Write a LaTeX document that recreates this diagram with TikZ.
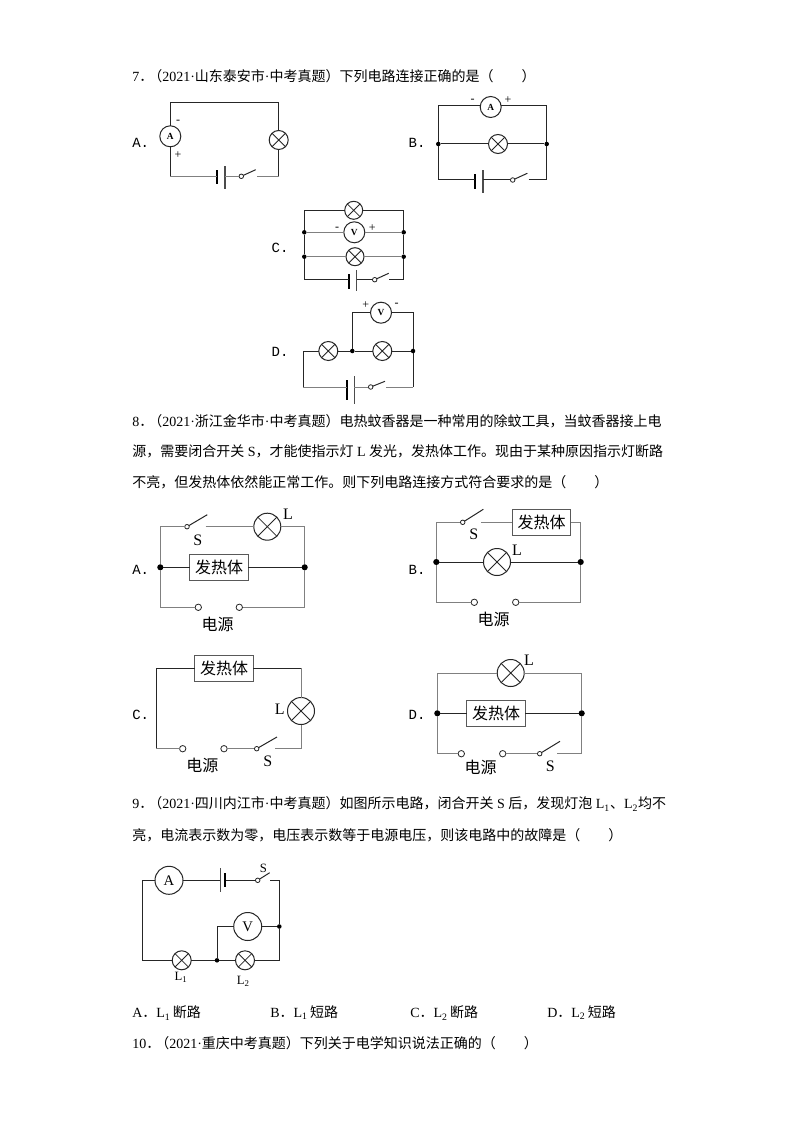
\documentclass[tikz,border=0pt]{standalone}
\usepackage{fontspec}
\setmainfont{Liberation Serif}
\newfontfamily\cjk{Noto Sans CJK SC}
\newfontfamily\mono{Liberation Mono}
\newcommand\zh[1]{{\cjk #1}}
\newcommand\tight{\hspace{-3.75pt}}
\newcommand\sw[6]{% name, x, y, arm end x, arm end y, wire resume x
  \node[swc] (#1) at (#2,#3) {};
  \coordinate (#1e) at (#4,#5);
  \coordinate (#1r) at (#6,#3);
  \draw[wire] (#1) -- (#1e);
}
\tikzset{
  x=0.75pt,y=-0.75pt,
  wire/.style={draw=black!85,line width=0.75pt},
  wireg/.style={draw=black!50,line width=0.75pt},
  txt/.style={anchor=west,inner sep=0pt,yshift=-0.75pt,font=\fontsize{10.5pt}{12pt}\selectfont},
  opt/.style={anchor=center,inner sep=0pt,font=\mono\fontsize{10.5pt}{12pt}\selectfont},
  sym/.style={anchor=center,inner sep=0pt,font=\fontsize{9pt}{10pt}\selectfont},
  big/.style={anchor=center,inner sep=0pt,font=\fontsize{12pt}{14pt}\selectfont},
  base/.style={circle,draw=black!85,fill=white,line width=0.75pt,inner sep=0pt,outer sep=0pt},
  lamp/.style={base,minimum size=#1,path picture={
    \draw[line width=0.6pt,black!85]
      (path picture bounding box.south west)--(path picture bounding box.north east)
      (path picture bounding box.north west)--(path picture bounding box.south east);}},
  lamp/.default=14.25pt,
  meter/.style={base,minimum size=15.75pt,font=\bfseries\fontsize{7pt}{8pt}\selectfont},
  meterL/.style={base,minimum size=21pt,font=\fontsize{11pt}{12pt}\selectfont},
  dot/.style={circle,fill=black,inner sep=0pt,outer sep=0pt,minimum size=3.4pt},
  dotL/.style={circle,fill=black,inner sep=0pt,outer sep=0pt,minimum size=4.6pt},
  swc/.style={circle,draw=black!85,fill=white,line width=0.6pt,inner sep=0pt,outer sep=0pt,minimum size=3.4pt},
  term/.style={circle,draw=black!85,fill=white,line width=0.6pt,inner sep=0pt,outer sep=0pt,minimum size=4.8pt},
  pshort/.style={rectangle,fill=black,inner sep=0pt,outer sep=0pt,minimum width=1.5pt,minimum height=#1},
  plong/.style={rectangle,fill=black!70,inner sep=0pt,outer sep=0pt,minimum width=0.8pt,minimum height=#1},
  heater/.style={rectangle,draw=black!65,fill=white,line width=0.9pt,inner sep=0pt,outer sep=0pt,
    minimum width=44pt,minimum height=19.5pt,font=\cjk\fontsize{12pt}{14pt}\selectfont},
}
\begin{document}
\begin{tikzpicture}
\fill[white] (0,0) rectangle (794,1123);
\useasboundingbox (0,0) rectangle (794,1123);
% ---- text lines
\node[txt] (t7) at (132,75) {7\zh{．}\tight\zh{（}2021·\zh{山东泰安市}·\zh{中考真题）下列电路连接正确的是（　　）}};
\node[txt] (t8a) at (132,420) {8\zh{．}\tight\zh{（}2021·\zh{浙江金华市}·\zh{中考真题）电热蚊香器是一种常用的除蚊工具，当蚊香器接上电}};
\node[txt] (t8b) at (132,450) {\zh{源，需要闭合开关} S\zh{，才能使指示灯} L \zh{发光，发热体工作。现由于某种原因指示灯断路}};
\node[txt] (t8c) at (132,481) {\zh{不亮，但发热体依然能正常工作。则下列电路连接方式符合要求的是（　　）}};
\node[txt] (t9a) at (132,803) {9\zh{．}\tight\zh{（}2021·\zh{四川内江市}·\zh{中考真题）如图所示电路，闭合开关} S \zh{后，发现灯泡} L\textsubscript{1}\zh{、}L\textsubscript{2}\zh{均不}};
\node[txt] (t9b) at (132,834) {\zh{亮，电流表示数为零，电压表示数等于电源电压，则该电路中的故障是（　　）}};
\node[txt] (oA) at (132,1012) {A\zh{．}L\textsubscript{1}\,\zh{断路}};
\node[txt] (oB) at (270,1012) {B\zh{．}L\textsubscript{1}\,\zh{短路}};
\node[txt] (oC) at (410,1012) {C\zh{．}L\textsubscript{2}\,\zh{断路}};
\node[txt] (oD) at (547,1012) {D\zh{．}L\textsubscript{2}\,\zh{短路}};
\node[txt] (t10) at (132,1042) {10\zh{．}\tight\zh{（}2021·\zh{重庆中考真题）下列关于电学知识说法正确的（　　）}};

% ---- Q7 A
\coordinate (atl) at (170.3,102.7); \coordinate (atr) at (278.7,102.7);
\coordinate (abl) at (170.3,176.3); \coordinate (abr) at (278.7,176.3);
\node[meter] (aA) at (170.3,136.3) {A};
\node[lamp] (aL) at (278.7,140) {};
\node[pshort=10.5pt] (aB1) at (217,177) {};
\node[plong=17pt] (aB2) at (225,177.5) {};
\sw{aS}{241.3}{176.3}{255.7}{169.7}{256.7}
\draw[wire] (aA) -- (atl) -- (atr) -- (aL) -- (abr);
\draw[wireg] (abr) -- (aSr);
\draw[wire] (aA) -- (abl);
\draw[wireg] (abl) -- (aB1.center|-abl);
\draw[wireg] (aB2.center|-abl) -- (aS);
\node[sym] (aM) at (178,122) {-};
\node[sym] (aP) at (178,155) {+};
\node[opt] (aT) at (140.7,143) {A.};

% ---- Q7 B
\coordinate (btl) at (438.3,105.7); \coordinate (btr) at (546.7,105.7);
\coordinate (bbl) at (438.3,180); \coordinate (bbr) at (546.7,180);
\coordinate (bAl) at (480,105.7); \coordinate (bAr) at (501.4,105.7);
\node[dot] (bJ1) at (438.3,144) {}; \node[dot] (bJ2) at (546.7,144) {};
\node[meter] (bA) at (490.7,107) {A};
\node[lamp] (bL) at (498,144) {};
\node[pshort=11.5pt] (bB1) at (475.3,181.5) {};
\node[plong=17pt] (bB2) at (483,181.3) {};
\sw{bS}{512.7}{180}{527.3}{173.3}{528.7}
\draw[wire] (bJ1) -- (btl) -- (bAl) (bAr) -- (btr) -- (bJ2);
\draw[wire] (bJ1) -- (bL) -- (bJ2);
\draw[wire] (bJ1) -- (bbl) -- (bB1.center|-bbl);
\draw[wire] (bB2.center|-bbl) -- (bS);
\draw[wire] (bSr) -- (bbr) -- (bJ2);
\node[sym] (bM) at (472.7,101) {-};
\node[sym] (bP) at (508,100) {+};
\node[opt] (bT) at (417,143) {B.};

% ---- Q7 C
\coordinate (ctl) at (304.3,210.3); \coordinate (ctr) at (403.7,210.3);
\coordinate (cbl) at (304.3,279.7); \coordinate (cbr) at (403.7,279.7);
\node[dot] (cJ1) at (304.3,232.3) {}; \node[dot] (cJ2) at (403.7,232.3) {};
\node[dot] (cJ3) at (304.3,256.7) {}; \node[dot] (cJ4) at (403.7,256.7) {};
\node[lamp=13.5pt] (cL1) at (353.7,210.3) {};
\node[meter] (cV) at (354.3,232.3) {V};
\node[lamp=13.5pt] (cL2) at (355,256.7) {};
\node[pshort=11pt] (cB1) at (349.3,281.3) {};
\node[plong=16pt] (cB2) at (356.7,280.8) {};
\sw{cS}{374.7}{279.7}{388.7}{273.3}{389}
\draw[wire] (cJ1) -- (ctl) -- (cL1) -- (ctr) -- (cJ2);
\draw[wireg] (cJ1) -- (cV) -- (cJ2);
\draw[wireg] (cJ3) -- (cL2) -- (cJ4);
\draw[wire] (cJ1) -- (cJ3) -- (cbl) -- (cB1.center|-cbl);
\draw[wire] (cJ2) -- (cJ4) -- (cbr) -- (cSr);
\draw[wire] (cB2.center|-cbl) -- (cS);
\node[sym] (cM) at (337,229) {-};
\node[sym] (cP) at (372.3,228.3) {+};
\node[opt] (cT) at (280,247.7) {C.};

% ---- Q7 D
\coordinate (dtl) at (352.3,312.7); \coordinate (dtr) at (413,312.7);
\coordinate (dbl) at (303,387); \coordinate (dbr) at (413,387); \coordinate (dml) at (303,351);
\node[dot] (dJ1) at (352.3,351) {}; \node[dot] (dJ2) at (413,351) {};
\node[lamp] (dL1) at (328.3,351) {};
\node[lamp] (dL2) at (382.3,351) {};
\node[meter] (dV) at (381,312.7) {V};
\node[pshort=15pt] (dB1) at (346.7,390) {};
\node[plong=21pt] (dB2) at (354.3,389.5) {};
\sw{dS}{370.7}{387}{385}{381.3}{385.7}
\draw[wire] (dbl) -- (dml) -- (dL1) -- (dJ1) -- (dL2) -- (dJ2);
\draw[wire] (dJ1) -- (dtl) -- (dV) -- (dtr) -- (dJ2) -- (dbr);
\draw[wireg] (dbr) -- (dSr);
\draw[wireg] (dbl) -- (dB1.center|-dbl);
\draw[wireg] (dB2.center|-dbl) -- (dS);
\node[sym] (dP) at (365.7,305) {+};
\node[sym] (dM) at (396.7,305.3) {-};
\node[opt] (dT) at (280,351.7) {D.};

% ---- Q8 A
\coordinate (eA) at (160.3,526.7); \coordinate (eB) at (304.7,526.7);
\coordinate (eC) at (160.3,607.3); \coordinate (eD) at (304.7,607.3);
\node[dotL] (eJ1) at (160.3,567.3) {}; \node[dotL] (eJ2) at (304.7,567.3) {};
\sw{eS}{187}{526.7}{207.3}{514.7}{205.7}
\node[lamp=20.25pt] (eL) at (267.3,526.7) {};
\node[heater] (eH) at (219,567.3) {发热体};
\node[term] (eT1) at (198.3,607.3) {}; \node[term] (eT2) at (239.3,607.3) {};
\draw[wireg] (eJ1) -- (eA) -- (eS);
\draw[wireg] (eSr) -- (eL);
\draw[wireg] (eL) -- (eB) -- (eJ2);
\draw[wire] (eJ1) -- (eH) -- (eJ2);
\draw[wireg] (eJ1) -- (eC) -- (eT1);
\draw[wireg] (eT2) -- (eD) -- (eJ2);
\node[big] (eLt) at (288,514) {L};
\node[big] (eSt) at (197.7,540) {S};
\node[big] (eP) at (217.7,624.3) {\cjk 电源};
\node[opt] (eTx) at (140.7,570) {A.};

% ---- Q8 B
\coordinate (fA) at (436.3,522.3); \coordinate (fB) at (580.7,522.3);
\coordinate (fC) at (436.3,602.3); \coordinate (fD) at (580.7,602.3);
\node[dotL] (fJ1) at (436.3,562) {}; \node[dotL] (fJ2) at (580.7,562) {};
\sw{fS}{462.7}{522.3}{483.3}{509.3}{481.3}
\node[heater] (fH) at (541.5,522.3) {发热体};
\node[lamp=20.25pt] (fL) at (497,562) {};
\node[term] (fT1) at (474.3,602.3) {}; \node[term] (fT2) at (515.7,602.3) {};
\draw[wireg] (fJ1) -- (fA) -- (fS);
\draw[wireg] (fSr) -- (fH) -- (fB) -- (fJ2);
\draw[wire] (fJ1) -- (fL) -- (fJ2);
\draw[wireg] (fJ1) -- (fC) -- (fT1);
\draw[wireg] (fT2) -- (fD) -- (fJ2);
\node[big] (fLt) at (517,550) {L};
\node[big] (fSt) at (473.7,534.7) {S};
\node[big] (fP) at (493.7,619.3) {\cjk 电源};
\node[opt] (fTx) at (417,570) {B.};

% ---- Q8 C
\coordinate (gA) at (156.3,668.3); \coordinate (gB) at (301,668.3);
\coordinate (gC) at (156.3,748.7); \coordinate (gD) at (301,748.7);
\node[heater] (gH) at (224,668.3) {发热体};
\node[lamp=20.25pt] (gL) at (301,711) {};
\node[term] (gT1) at (182.7,748.7) {}; \node[term] (gT2) at (224,748.7) {};
\sw{gS}{256.7}{748.7}{277}{737}{275.3}
\draw[wire] (gH) -- (gA) -- (gC);
\draw[wireg] (gC) -- (gT1);
\draw[wire] (gH) -- (gB);
\draw[wireg] (gB) -- (gL) -- (gD) -- (gSr);
\draw[wireg] (gT2) -- (gS);
\node[big] (gLt) at (279.7,709) {L};
\node[big] (gSt) at (267.7,761.7) {S};
\node[big] (gP) at (202.3,765.7) {\cjk 电源};
\node[opt] (gTx) at (140.7,715.3) {C.};

% ---- Q8 D
\coordinate (hA) at (437.3,673); \coordinate (hB) at (581.7,673);
\coordinate (hC) at (437.3,753.7); \coordinate (hD) at (581.7,753.7);
\node[dotL] (hJ1) at (437.3,713.3) {}; \node[dotL] (hJ2) at (581.7,713.3) {};
\node[lamp=20.25pt] (hL) at (510.7,673) {};
\node[heater] (hH) at (496,713.3) {发热体};
\node[term] (hT1) at (461.3,753.7) {}; \node[term] (hT2) at (502.7,753.7) {};
\sw{hS}{539.7}{753.7}{560}{741.3}{557.3}
\draw[wireg] (hJ1) -- (hA) -- (hL) -- (hB) -- (hJ2);
\draw[wire] (hJ1) -- (hH) -- (hJ2);
\draw[wireg] (hJ1) -- (hC) -- (hT1);
\draw[wireg] (hT2) -- (hS);
\draw[wireg] (hSr) -- (hD) -- (hJ2);
\node[big] (hLt) at (529,660) {L};
\node[big] (hSt) at (550.3,766.7) {S};
\node[big] (hP) at (480.7,767.7) {\cjk 电源};
\node[opt] (hTx) at (417,715.3) {D.};

% ---- Q9
\coordinate (kA) at (142.7,880.3); \coordinate (kB) at (279.3,880.3);
\coordinate (kC) at (142.7,960.3); \coordinate (kD) at (279.3,960.3);
\coordinate (kE) at (217,926.5);
\node[meterL] (kM) at (169,880.3) {A};
\node[plong=18pt] (kB1) at (220.7,880.3) {};
\node[pshort=10.5pt] (kB2) at (225.3,880.3) {};
\sw{kS}{257.7}{880.3}{269.7}{872.7}{270.3}
\node[meterL] (kV) at (247.7,926.5) {V};
\node[dot] (kJ1) at (279.3,926.5) {};
\node[dot] (kJ2) at (217,960.3) {};
\node[lamp] (kL1) at (181.7,960.3) {};
\node[lamp] (kL2) at (245,960.3) {};
\draw[wire] (kM) -- (kA) -- (kC) -- (kL1) -- (kJ2) -- (kL2) -- (kD) -- (kJ1) -- (kB) -- (kSr);
\draw[wire] (kM) -- (kB1);
\draw[wire] (kB2) -- (kS);
\draw[wire] (kJ2) -- (kE) -- (kV) -- (kJ1);
\node[big,font=\fontsize{9.5pt}{11pt}\selectfont] (kSt) at (263.3,868.3) {S};
\node[big,font=\fontsize{9.5pt}{11pt}\selectfont] (kL1t) at (181,977.7) {L\textsubscript{1}};
\node[big,font=\fontsize{9.5pt}{11pt}\selectfont] (kL2t) at (243.3,981.7) {L\textsubscript{2}};
\end{tikzpicture}
\end{document}
